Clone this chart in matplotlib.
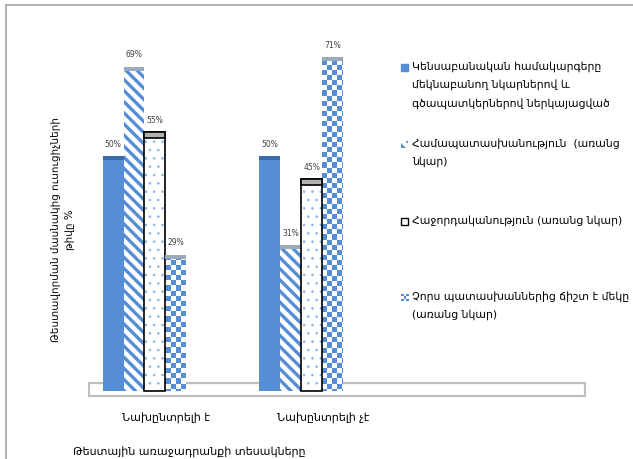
import numpy as np
import matplotlib
matplotlib.use("Agg")
import matplotlib.pyplot as plt
from matplotlib.patches import Rectangle
from matplotlib.colors import ListedColormap
from matplotlib import transforms

plt.rcParams['font.family'] = ['DejaVu Sans']
plt.rcParams['hatch.linewidth'] = 2.4

categories = ["Նախընտրելի է", "Նախընտրելի չէ"]
series_names = [
    "Կենսաբանական համակարգերը\nմեկնաբանող նկարներով և\nգծապատկերներով ներկայացված",
    "Համապատասխանություն  (առանց\nնկար)",
    "Հաջորդականություն (առանց նկար)",
    "Չորս պատասխաններից ճիշտ է մեկը\n(առանց նկար)",
]
pictures = [50, 50]
matching = [69, 31]
sequence = [55, 45]
one_of_four = [29, 71]

y_label = "Թեստավորման մասնակից ուսուցիչների\nթիվը %"
x_label = "Թեստային առաջադրանքի տեսակները"

BLUE = "#558ed5"
STRIPES = "\\\\\\"
W, H = 633, 460

fig = plt.figure(figsize=(W / 100, H / 100), dpi=100)

def fx(px):
    return px / W

def fy(py):
    return 1 - py / H

# outer frame (cropped chart area border)
fig.add_artist(Rectangle((fx(6), fy(470)), fx(700), fy(6) - fy(470),
                         transform=fig.transFigure, fill=False,
                         edgecolor="#b4b4b4", lw=1.5))

ax = fig.add_axes([fx(88), fy(400), fx(587) - fx(88), fy(30) - fy(400)])
ax.set_xlim(-0.36, 2.82)
ax.set_ylim(-1.70, 77.0)
for s in ax.spines.values():
    s.set_visible(False)
ax.set_yticks([])
ax.tick_params(axis="x", length=0, labelsize=8, pad=9)

# floor
ax.add_patch(Rectangle((-0.355, -1.1), 3.165, 2.9, facecolor="white",
                       edgecolor="#bfbfbf", lw=1.6, zorder=1))

x = np.arange(len(categories))
w = 21 / 157
cap = 0.9

# series 1: solid
ax.bar(x - 1.5 * w, pictures, w, color=BLUE, zorder=3)
ax.bar(x - 1.5 * w, cap, w, bottom=np.array(pictures) - cap, color="#3c6aa6", zorder=4)

# series 2: diagonal stripes
ax.bar(x - 0.5 * w, matching, w, facecolor="white", edgecolor=BLUE,
       hatch=STRIPES, lw=0, zorder=3)
ax.bar(x - 0.5 * w, cap, w, bottom=np.array(matching) - cap, color="#9aaabb", zorder=4)

# series 3: small dots with black outline
with plt.rc_context({'hatch.linewidth': 0.6}):
    ax.bar(x + 0.5 * w, sequence, w, facecolor="white", edgecolor="#8fb2e0",
           hatch="..", lw=0, zorder=3)
ax.bar(x + 0.5 * w, sequence, w, facecolor="none", edgecolor="black", lw=1.2, zorder=4)
ax.bar(x + 0.5 * w, cap * 1.2, w, bottom=np.array(sequence) - cap * 1.2,
       facecolor="#b0b0b0", edgecolor="black", lw=1.2, zorder=5)

# series 4: checkerboard
b4 = ax.bar(x + 1.5 * w, one_of_four, w, facecolor="white", lw=0, zorder=3)
nx, ny = 96, 72
checker = np.indices((ny, nx)).sum(axis=0) % 2
for patch in b4:
    im = ax.imshow(checker, extent=(-0.36, 2.82, -1.70, 77.0), aspect="auto",
                   cmap=ListedColormap(["white", BLUE]), interpolation="nearest",
                   zorder=3.5)
    im.set_clip_path(patch)
ax.bar(x + 1.5 * w, cap, w, bottom=np.array(one_of_four) - cap, color="#9aaabb", zorder=4)

# value labels
for offs, vals in zip([-1.5, -0.5, 0.5, 1.5], [pictures, matching, sequence, one_of_four]):
    for xi, v in zip(x, vals):
        ax.annotate(f"{v}%", (xi + offs * w, v), xytext=(0, 6), textcoords="offset points",
                    ha="center", va="bottom", fontsize=5.5, color="#404040")

ax.set_xticks(x)
ax.set_xticklabels(categories)
shift = transforms.ScaledTranslation(0.22, 0, fig.dpi_scale_trans)
for lbl in ax.get_xticklabels():
    lbl.set_transform(lbl.get_transform() + shift)

fig.text(fx(63), fy(230), y_label, rotation=90, ha="center", va="center",
         fontsize=7.5, linespacing=1.5, multialignment="center")
fig.text(fx(73), fy(452), x_label, ha="left", va="center", fontsize=8)

# legend
legend_y = [68, 145, 222, 298]
for name, ly in zip(series_names, legend_y):
    fig.text(fx(412), fy(ly - 7), name, ha="left", va="top", fontsize=7.8,
             linespacing=1.9)
sq = 7
r0 = Rectangle((fx(401), fy(legend_y[0] + 4)), fx(sq), fy(0) - fy(sq),
               transform=fig.transFigure, color=BLUE)
r1 = Rectangle((fx(401), fy(legend_y[1] + 4)), fx(sq), fy(0) - fy(sq),
               transform=fig.transFigure, facecolor="white", edgecolor=BLUE,
               hatch=STRIPES, lw=0)
r2 = Rectangle((fx(401), fy(legend_y[2] + 4)), fx(sq), fy(0) - fy(sq),
               transform=fig.transFigure, facecolor="white", edgecolor="black", lw=1)
for r in (r0, r1, r2):
    fig.add_artist(r)
lax = fig.add_axes([fx(401), fy(legend_y[3] + 4), fx(sq), fy(0) - fy(sq)])
lax.imshow(np.indices((3, 3)).sum(axis=0) % 2 == 0, cmap=ListedColormap(["white", BLUE]),
           interpolation="nearest", aspect="auto")
lax.axis("off")

fig.savefig("out.png", dpi=100)
